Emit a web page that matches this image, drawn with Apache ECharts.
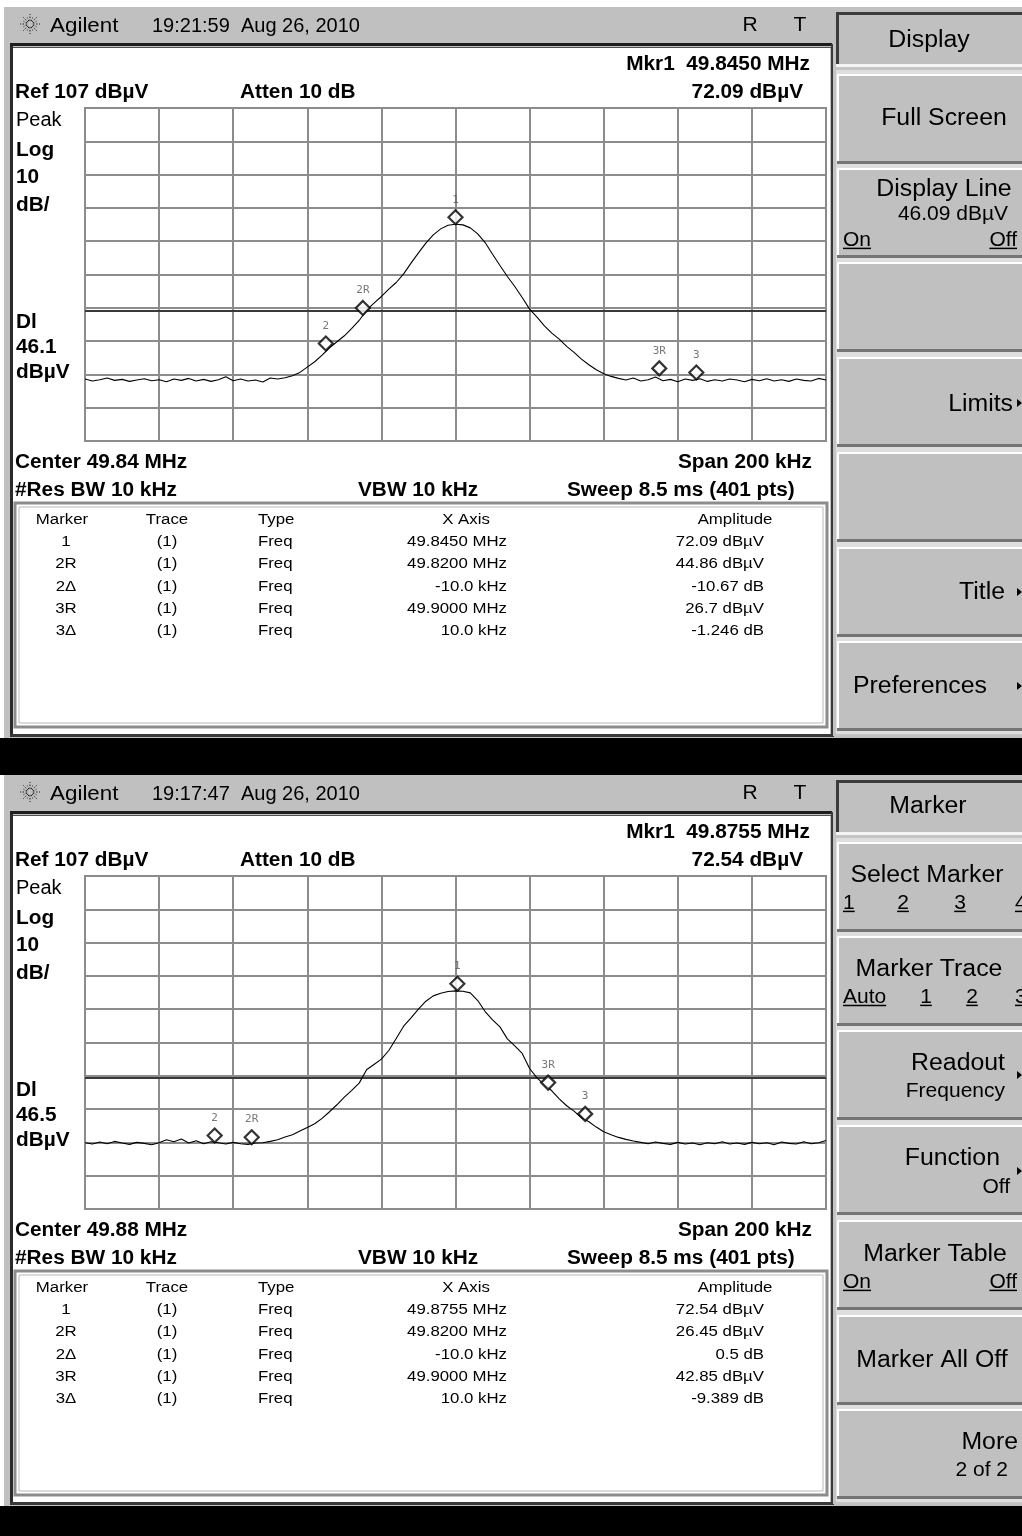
<!DOCTYPE html>
<html><head><meta charset="utf-8">
<script src="https://cdn.jsdelivr.net/npm/echarts@6/dist/echarts.min.js"></script>
<style>html,body{margin:0;padding:0;background:#fff}#c{width:1022px;height:1536px}</style>
</head><body><div id="c"></div>
<script>
// ---------------- DATA ----------------
const refLevel = 107;            // dBµV at top graticule
const sweepStartKHz = -100;      // sweep relative to centre
const sweepStepKHz = 2;

// trace levels (dBµV), one per 2 kHz from -100 kHz to +100 kHz around centre
const topTrace = [
 25.6,25.0,25.4,25.9,25.2,25.5,24.9,25.3,25.7,25.1,
 25.4,24.8,25.6,25.2,25.8,25.0,25.5,24.9,25.4,26.3,
 25.1,25.6,25.0,25.3,24.7,25.9,25.6,26.0,26.6,27.6,
 29.2,30.8,32.8,35.0,36.8,38.6,40.8,43.2,46.3,48.4,
 50.4,52.6,54.6,57.2,60.4,63.5,66.4,68.9,70.7,71.8,
 72.09,
 71.9,71.0,69.2,66.6,63.1,59.7,56.4,53.4,50.1,46.6,
 44.2,41.6,39.4,37.6,35.4,33.6,31.6,29.9,28.4,27.2,
 26.4,25.8,25.3,25.9,25.0,25.4,26.2,25.1,25.5,24.8,
 25.6,25.2,25.7,24.9,25.4,25.0,25.6,25.3,24.8,25.5,
 25.1,25.7,25.0,25.4,24.9,25.6,25.2,25.0,25.8,25.3
];
const bottomTrace = [
 26.9,26.5,27.1,26.6,27.3,26.8,26.4,27.0,26.7,26.3,
 26.9,27.8,27.2,28.0,26.8,27.5,26.6,27.2,26.9,26.5,
 27.0,26.6,26.4,26.8,26.9,27.3,27.8,28.6,29.3,30.4,
 31.5,32.6,34.2,36.2,38.3,40.6,42.6,44.8,48.8,50.4,
 52.0,54.6,58.2,61.9,64.4,67.0,69.4,71.0,71.8,72.3,
 72.5,
 72.4,71.9,69.6,66.3,63.8,61.7,58.1,56.0,53.7,49.2,
 46.4,44.3,42.5,40.1,38.0,36.4,34.4,33.2,31.6,30.2,
 29.3,28.5,27.9,27.4,27.0,26.6,27.1,26.7,26.4,27.0,
 26.5,26.8,26.3,26.9,26.6,27.2,26.5,26.8,26.4,27.0,
 26.6,26.9,26.3,27.1,26.7,26.5,27.2,26.6,26.9,27.6
];

const topCenterMHz = 49.845;
const bottomCenterMHz = 49.875;
const topDisplayLine = 46.09;
const bottomDisplayLine = 46.5;

const markerNames = ['1','2R','2','3R','3'];
const topMarkerFreqMHz = [49.8450, 49.8200, 49.8100, 49.9000, 49.9100];
const topMarkerLevels = [72.09, 44.86, 34.19, 26.70, 25.45];
const bottomMarkerFreqMHz = [49.8755, 49.8200, 49.8100, 49.9000, 49.9100];
const bottomMarkerLevels = [72.54, 26.45, 26.95, 42.85, 33.46];

const tableHeader = ['Marker','Trace','Type','X Axis','Amplitude'];
const topTableRows = [
 ['1','(1)','Freq','49.8450 MHz','72.09 dBµV'],
 ['2R','(1)','Freq','49.8200 MHz','44.86 dBµV'],
 ['2Δ','(1)','Freq','-10.0 kHz','-10.67 dB'],
 ['3R','(1)','Freq','49.9000 MHz','26.7 dBµV'],
 ['3Δ','(1)','Freq','10.0 kHz','-1.246 dB']
];
const bottomTableRows = [
 ['1','(1)','Freq','49.8755 MHz','72.54 dBµV'],
 ['2R','(1)','Freq','49.8200 MHz','26.45 dBµV'],
 ['2Δ','(1)','Freq','-10.0 kHz','0.5 dB'],
 ['3R','(1)','Freq','49.9000 MHz','42.85 dBµV'],
 ['3Δ','(1)','Freq','10.0 kHz','-9.389 dB']
];

const topTexts = ['19:21:59  Aug 26, 2010','Mkr1  49.8450 MHz','72.09 dBµV','Center 49.84 MHz','46.1'];
const bottomTexts = ['19:17:47  Aug 26, 2010','Mkr1  49.8755 MHz','72.54 dBµV','Center 49.88 MHz','46.5'];
const commonTexts = ['Ref 107 dBµV','Atten 10 dB','Peak','Log','10','dB/','Dl','dBµV','Span 200 kHz','#Res BW 10 kHz','VBW 10 kHz','Sweep 8.5 ms (401 pts)'];

// ---------------- DRAWING ----------------
const FAM = '"Liberation Sans", Arial, Helvetica, sans-serif';
const mctx = document.createElement('canvas').getContext('2d');
function tw(t, font){ mctx.font = font; return mctx.measureText(t).width; }
const g = [];
function R(x,y,w,h,fill,stroke,lw,z){
  g.push({type:'rect', silent:true, z: z==null?1:z, shape:{x,y,width:w,height:h},
    style:{fill: fill||'none', stroke: stroke||'none', lineWidth: lw||0}});
}
function L(x1,y1,x2,y2,stroke,lw,z,dash){
  g.push({type:'line', silent:true, z: z==null?2:z, shape:{x1,y1,x2,y2},
    style:{stroke, lineWidth: lw||1, lineDash: dash||null}});
}
function T(x,y,text,o){
  o = o||{};
  const size = o.size||20, w = o.bold?'bold':'normal';
  const font = w+' '+size+'px '+FAM;
  const al = o.align||'left';
  g.push({type:'text', silent:true, z:10, x, y, scaleX:o.sx||1,
    style:{text, font, fill:o.color||'#000', align:al, textAlign:al, verticalAlign:'middle', textVerticalAlign:'middle'}});
  if (o.underline){
    const wd = tw(text,font)*(o.sx||1);
    const x0 = al==='right'? x-wd : (al==='center'? x-wd/2 : x);
    L(x0, y+size*0.42, x0+wd, y+size*0.42, '#000', 1.5, 11);
  }
}
function TRI(x,y){
  g.push({type:'polygon', silent:true, z:10, shape:{points:[[x,y-4],[x+5,y],[x,y+4]]}, style:{fill:'#000'}});
}
function button(top,h){
  R(837, top, 185, h, '#c0c0c0', null, 0, 2);
  R(837, top, 185, 2, '#ffffff', null, 0, 3);
  R(837, top, 2, h, '#ffffff', null, 0, 3);
  R(837, top+h-3, 185, 3, '#747474', null, 0, 3);
}
function logo(cx,cy){
  for (let k=0;k<16;k++){
    const a = k*Math.PI/8, r1 = 3, r2 = (k%2===0)?10:7;
    L(cx+r1*Math.cos(a), cy+r1*Math.sin(a), cx+r2*Math.cos(a), cy+r2*Math.sin(a), '#222', 1, 10, [1.5,1.5]);
  }
}

R(0,0,1022,1536,'#ffffff',null,0,0);
const btnTops = [74,168,262,357,452,547,641];

function panel(dy, texts, rows){
  R(4, 7+dy, 1018, 731, '#c0c0c0', null, 0, 0);
  // header
  logo(30, 24+dy);
  T(50, 26+dy, 'Agilent', {size:20, sx:1.12});
  T(152, 26+dy, texts[0], {size:20});
  T(750, 25+dy, 'R', {size:21, align:'center'});
  T(800, 25+dy, 'T', {size:21, align:'center'});
  // frame
  R(10, 43+dy, 822, 3, '#1e1e1e', null, 0, 1);
  R(10, 47+dy, 822, 1, '#505050', null, 0, 1);
  R(13, 48+dy, 817, 686, '#ffffff', null, 0, 1);
  R(10, 46+dy, 3, 690, '#2a2a2a', null, 0, 1);
  R(831, 44+dy, 2, 692, '#3a3a3a', null, 0, 1);
  R(10, 734+dy, 824, 3, '#3a3a3a', null, 0, 1);
  // annotations
  const B = {bold:true, size:20, sx:1.04};
  T(810, 64+dy, texts[1], Object.assign({align:'right'},B));
  T(15, 92+dy, commonTexts[0], B);
  T(240, 92+dy, commonTexts[1], B);
  T(803, 92+dy, texts[2], Object.assign({align:'right'},B));
  T(16, 120+dy, commonTexts[2], {size:20});
  T(16, 150+dy, commonTexts[3], B);
  T(16, 177+dy, commonTexts[4], B);
  T(16, 205+dy, commonTexts[5], B);
  T(16, 322+dy, commonTexts[6], B);
  T(16, 347+dy, texts[4], B);
  T(16, 372+dy, commonTexts[7], B);
  T(15, 462+dy, texts[3], B);
  T(812, 462+dy, commonTexts[8], Object.assign({align:'right'},B));
  T(15, 490+dy, commonTexts[9], B);
  T(358, 490+dy, commonTexts[10], B);
  T(567, 490+dy, commonTexts[11], B);
  // table
  R(15, 503+dy, 812, 224, '#ffffff', '#8c8c8c', 3, 2);
  R(19, 507+dy, 804, 216, null, '#b8b8b8', 1, 3);
  const S = {size:14, sx:1.2};
  T(62, 520+dy, tableHeader[0], Object.assign({align:'center'},S));
  T(167, 520+dy, tableHeader[1], Object.assign({align:'center'},S));
  T(258, 520+dy, tableHeader[2], S);
  T(466, 520+dy, tableHeader[3], Object.assign({align:'center'},S));
  T(735, 520+dy, tableHeader[4], Object.assign({align:'center'},S));
  rows.forEach((r,k)=>{
    const y = 542 + k*22.4 + dy;
    T(66, y, r[0], Object.assign({align:'center'},S));
    T(167, y, r[1], Object.assign({align:'center'},S));
    T(258, y, r[2], S);
    T(507, y, r[3], Object.assign({align:'right'},S));
    T(764, y, r[4], Object.assign({align:'right'},S));
  });
  // menu column
  R(833, 44+dy, 189, 692, '#c4c4c4', null, 0, 1);
  R(836, 70+dy, 186, 664, '#dedede', null, 0, 1);
  R(836, 12+dy, 186, 55, '#c0c0c0', null, 0, 2);
  R(836, 12+dy, 186, 3, '#3c3c3c', null, 0, 3);
  R(836, 12+dy, 3, 55, '#3c3c3c', null, 0, 3);
  R(836, 64+dy, 186, 3, '#f4f4f4', null, 0, 3);
  btnTops.forEach(t=>button(t+dy, 90));
}

panel(0, topTexts, topTableRows);
panel(768, bottomTexts, bottomTableRows);
R(0, 738, 1022, 37, '#000000', null, 0, 4);
R(0, 1506, 1022, 30, '#000000', null, 0, 4);

// menus
const M = {size:23, sx:1.08};
const M2 = {size:20, sx:1.05};
const c = (o,a)=>Object.assign({align:a},o);
// top: Display
T(929, 41, 'Display', c(M,'center'));
T(944, 119, 'Full Screen', c(M,'center'));
T(944, 190, 'Display Line', c(M,'center'));
T(953, 214, '46.09 dBµV', c(M2,'center'));
T(843, 240, 'On', Object.assign({underline:true},c(M2,'left')));
T(1017, 240, 'Off', Object.assign({underline:true},c(M2,'right')));
T(1013, 405, 'Limits', c(M,'right')); TRI(1017, 403);
T(1005, 593, 'Title', c(M,'right')); TRI(1017, 592);
T(853, 687, 'Preferences', c(M,'left')); TRI(1017, 686);
// bottom: Marker
T(928, 807, 'Marker', c(M,'center'));
T(927, 876, 'Select Marker', c(M,'center'));
T(843, 903, '1', Object.assign({underline:true},c(M2,'left')));
T(903, 903, '2', Object.assign({underline:true},c(M2,'center')));
T(960, 903, '3', Object.assign({underline:true},c(M2,'center')));
T(1015, 903, '4', Object.assign({underline:true},c(M2,'left')));
T(929, 970, 'Marker Trace', c(M,'center'));
T(843, 997, 'Auto', Object.assign({underline:true},c(M2,'left')));
T(926, 997, '1', Object.assign({underline:true},c(M2,'center')));
T(972, 997, '2', Object.assign({underline:true},c(M2,'center')));
T(1015, 997, '3', Object.assign({underline:true},c(M2,'left')));
T(1005, 1064, 'Readout', c(M,'right')); TRI(1017, 1075);
T(1005, 1091, 'Frequency', c(M2,'right'));
T(1000, 1159, 'Function', c(M,'right')); TRI(1017, 1171);
T(1010, 1187, 'Off', c(M2,'right'));
T(935, 1255, 'Marker Table', c(M,'center'));
T(843, 1282, 'On', Object.assign({underline:true},c(M2,'left')));
T(1017, 1282, 'Off', Object.assign({underline:true},c(M2,'right')));
T(932, 1361, 'Marker All Off', c(M,'center'));
T(1018, 1443, 'More', c(M,'right'));
T(1008, 1470, '2 of 2', c(M2,'right'));

// ---------------- CHART ----------------
function traceData(arr){ return arr.map((v,k)=>[sweepStartKHz + k*sweepStepKHz, v - refLevel]); }
function markerData(freqs, levels, center){
  return markerNames.map((n,k)=>({name:n, value:[(freqs[k]-center)*1000, levels[k]-refLevel]}));
}
const grids = [108, 876].map(t=>({left:85, top:t, width:741, height:333, show:true,
  borderColor:'#8c8c8c', borderWidth:2, backgroundColor:'transparent', z:3}));
const axCommon = {axisLine:{show:false}, axisTick:{show:false}, axisLabel:{show:false},
  splitLine:{show:true, lineStyle:{color:'#8c8c8c', width:2}}, z:3};
const xAxes = [0,1].map(i=>Object.assign({type:'value', gridIndex:i, min:-100, max:100, interval:20}, axCommon));
const yAxes = [0,1].map(i=>Object.assign({type:'value', gridIndex:i, min:-100, max:0, interval:10}, axCommon));

function traceSeries(i, arr, dl){
  return {type:'line', xAxisIndex:i, yAxisIndex:i, data:traceData(arr), showSymbol:false, symbol:'none',
    lineStyle:{color:'#000', width:1.1}, z:5, silent:true, animation:false,
    markLine:{silent:true, symbol:['none','none'], label:{show:false}, animation:false,
      lineStyle:{color:'#3a3a3a', width:2, type:'solid'}, data:[{yAxis: dl - refLevel}]}};
}
function markerSeries(i, freqs, levels, center){
  return {type:'scatter', xAxisIndex:i, yAxisIndex:i, data:markerData(freqs, levels, center),
    symbol:'diamond', symbolSize:14, symbolOffset:[0,-7], z:6, silent:true, animation:false,
    itemStyle:{color:'#ffffff', borderColor:'#000', borderWidth:2.2},
    label:{show:true, formatter:'{b}', position:'top', distance:4, color:'#555',
      fontSize:11, fontFamily:'"DejaVu Sans Mono", monospace'}};
}

const chart = echarts.init(document.getElementById('c'), null, {renderer:'canvas', width:1022, height:1536});
chart.setOption({
  animation:false,
  backgroundColor:'#ffffff',
  graphic:{elements:g},
  grid:grids, xAxis:xAxes, yAxis:yAxes,
  series:[
    traceSeries(0, topTrace, topDisplayLine),
    markerSeries(0, topMarkerFreqMHz, topMarkerLevels, topCenterMHz),
    traceSeries(1, bottomTrace, bottomDisplayLine),
    markerSeries(1, bottomMarkerFreqMHz, bottomMarkerLevels, bottomCenterMHz)
  ]
});
</script></body></html>
